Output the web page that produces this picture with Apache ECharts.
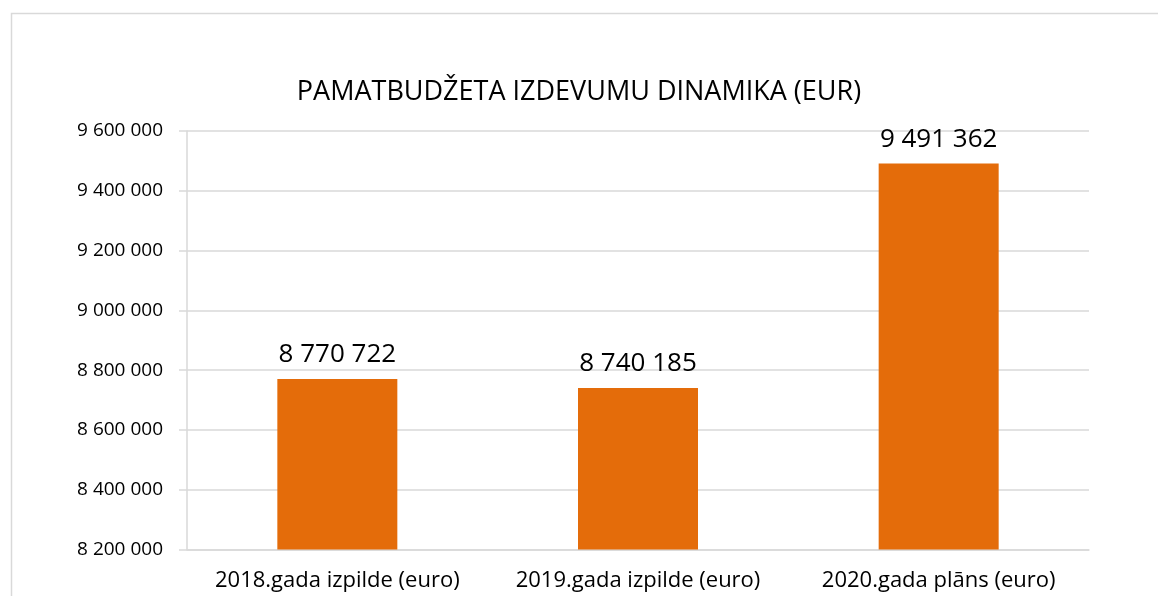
<!DOCTYPE html>
<html>
<head>
<meta charset="utf-8">
<script src="https://cdn.jsdelivr.net/npm/echarts@6/dist/echarts.min.js"></script>
<style>
  html, body { margin: 0; padding: 0; background: #fff; }
  #chart { width: 1158px; height: 596px; }
</style>
</head>
<body>
<div id="chart"></div>
<script>
const categories = ['2018.gada izpilde (euro)', '2019.gada izpilde (euro)', '2020.gada plāns (euro)'];
const values = [8770722, 8740185, 9491362];
const chartTitle = 'PAMATBUDŽETA IZDEVUMU DINAMIKA (EUR)';

// 9600000 -> "9 600 000"
const fmt = (v) => String(Math.round(v)).replace(/\B(?=(\d{3})+(?!\d))/g, ' ');

const font = '"Open Sans", "Noto Sans", sans-serif';
const chart = echarts.init(document.getElementById('chart'));

chart.setOption({
  backgroundColor: '#fff',
  animation: false,
  graphic: [
    {
      type: 'rect',
      shape: { x: 11.5, y: 13.5, width: 1200, height: 700 },
      style: { fill: 'none', stroke: '#d9d9d9', lineWidth: 1.5 },
      silent: true
    }
  ],
  title: {
    text: chartTitle,
    left: 'center',
    top: 74,
    textStyle: { fontFamily: font, fontSize: 27, fontWeight: 'normal', color: '#000' }
  },
  grid: { left: 187, right: 69, top: 131, bottom: 46.5 },
  xAxis: {
    type: 'category',
    data: categories,
    axisLine: { lineStyle: { color: '#d9d9d9', width: 1.5 } },
    axisTick: { show: false },
    axisLabel: { interval: 0, hideOverlap: false, fontFamily: font, fontSize: 22, color: '#000', margin: 20 }
  },
  yAxis: {
    type: 'value',
    min: 8200000,
    max: 9600000,
    interval: 200000,
    axisLine: { show: true, lineStyle: { color: '#d9d9d9', width: 1.5 } },
    axisTick: { show: true, length: 8, lineStyle: { color: '#d9d9d9', width: 1.5 } },
    axisLabel: { fontFamily: font, fontSize: 19, color: '#000', margin: 24, formatter: fmt },
    splitLine: { lineStyle: { color: '#d9d9d9', width: 1.5 } }
  },
  series: [
    {
      type: 'bar',
      data: values,
      barWidth: 120,
      itemStyle: { color: '#e46c0a' },
      label: {
        show: true,
        position: 'top',
        distance: 11,
        fontFamily: font,
        fontSize: 26,
        color: '#000',
        formatter: (p) => fmt(p.value)
      }
    }
  ]
});
</script>
</body>
</html>
